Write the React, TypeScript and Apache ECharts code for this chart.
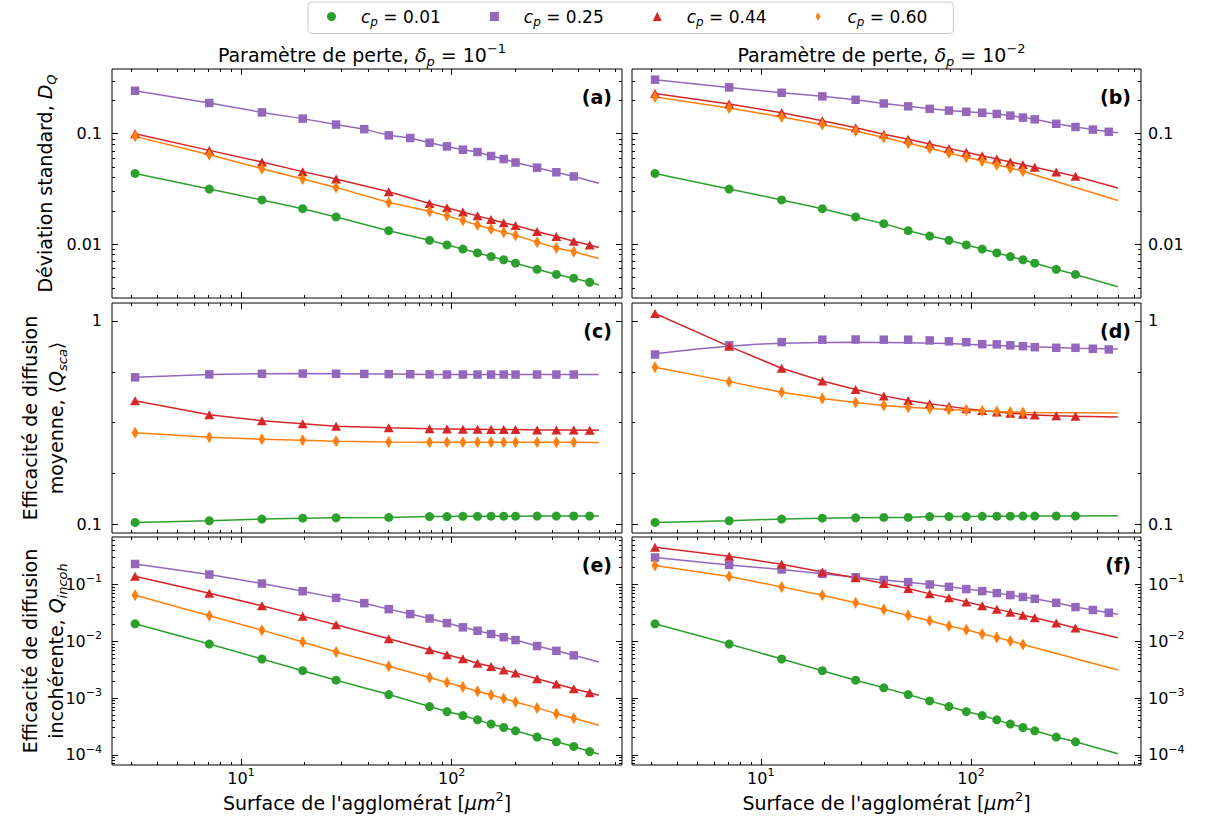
import React, { useEffect, useRef } from 'react';
import * as echarts from 'echarts';

// ---------- x positions (cluster surface, µm²) ----------
const X19 = [3.14, 7.07, 12.57, 19.63, 28.27, 38.48, 50.27, 63.62, 78.54, 95.03, 113.1, 132.7, 153.9, 176.7, 201.1, 254.5, 314.2, 380.1, 452.4];
const X18 = [3.14, 7.07, 12.57, 19.63, 28.27, 38.48, 50.27, 63.62, 78.54, 95.03, 113.1, 132.7, 153.9, 176.7, 201.1, 254.5, 314.2, 380.1];
const X17F = [3.14, 7.07, 12.57, 19.63, 28.27, 38.48, 50.27, 63.62, 78.54, 95.03, 113.1, 132.7, 153.9, 176.7, 201.1, 254.5, 314.2];
const X14F = [3.14, 7.07, 12.57, 19.63, 28.27, 38.48, 50.27, 63.62, 78.54, 95.03, 113.1, 132.7, 153.9, 176.7];
const X17 = [3.14, 7.07, 12.57, 19.63, 28.27, 50.27, 78.54, 95.03, 113.1, 132.7, 153.9, 176.7, 201.1, 254.5, 314.2, 380.1, 452.4];
const X16 = [3.14, 7.07, 12.57, 19.63, 28.27, 50.27, 78.54, 95.03, 113.1, 132.7, 153.9, 176.7, 201.1, 254.5, 314.2, 380.1];
const LINE_END_X = 500;

// ---------- legend ----------
const CP_VALUES = ['0.01', '0.25', '0.44', '0.60'];
const COLORS = ['#2ca02c', '#9467bd', '#d62728', '#ff7f0e'];

// ---------- (a) D_Q, delta_p = 1e-1 ----------
const A_G = [0.0436, 0.0315, 0.0251, 0.0209, 0.0176, 0.0132, 0.0108, 0.0098, 0.0090, 0.0083, 0.0077, 0.0072, 0.0067, 0.0059, 0.0053, 0.0049, 0.0045];
const A_P = [0.245, 0.190, 0.156, 0.137, 0.121, 0.110, 0.0966, 0.0914, 0.0828, 0.0767, 0.0716, 0.0682, 0.0628, 0.0589, 0.0548, 0.0492, 0.0447, 0.0410];
const A_R = [0.100, 0.0706, 0.0554, 0.0453, 0.0388, 0.0298, 0.0233, 0.0213, 0.0195, 0.0180, 0.0167, 0.0156, 0.0147, 0.0130, 0.0117, 0.0106, 0.0098];
const A_O = [0.0946, 0.0645, 0.0482, 0.0388, 0.0326, 0.0238, 0.0198, 0.0180, 0.0163, 0.0149, 0.0137, 0.0128, 0.0120, 0.0104, 0.0092, 0.0085];
const A_TAIL = [0.00425, 0.0355, 0.0093, 0.0074];

// ---------- (b) D_Q, delta_p = 1e-2 ----------
const B_G = [0.0436, 0.0315, 0.0251, 0.0209, 0.0176, 0.0153, 0.0132, 0.0118, 0.0108, 0.0098, 0.0090, 0.0083, 0.0077, 0.0072, 0.0067, 0.0059, 0.0053];
const B_P = [0.309, 0.263, 0.235, 0.218, 0.203, 0.188, 0.177, 0.168, 0.162, 0.158, 0.155, 0.151, 0.146, 0.140, 0.135, 0.123, 0.115, 0.109, 0.104];
const B_R = [0.231, 0.186, 0.155, 0.131, 0.113, 0.099, 0.089, 0.0805, 0.0736, 0.0680, 0.0632, 0.0590, 0.0555, 0.0523, 0.0496, 0.0449, 0.0411];
const B_O = [0.215, 0.171, 0.142, 0.121, 0.106, 0.0925, 0.0820, 0.0738, 0.0668, 0.0612, 0.0565, 0.0522, 0.0488, 0.0456];
const B_TAIL = [0.0041, 0.102, 0.0322, 0.0248];

// ---------- (c) <Q_sca>, delta_p = 1e-1 ----------
const C_G = [0.102, 0.104, 0.106, 0.107, 0.1075, 0.108, 0.109, 0.109, 0.1093, 0.1093, 0.1095, 0.1095, 0.1095, 0.1096, 0.1096, 0.1097, 0.1097];
const C_P = [0.528, 0.546, 0.550, 0.551, 0.550, 0.549, 0.548, 0.547, 0.546, 0.545, 0.545, 0.545, 0.545, 0.545, 0.545, 0.545, 0.545, 0.545];
const C_R = [0.405, 0.346, 0.323, 0.312, 0.303, 0.298, 0.295, 0.294, 0.293, 0.293, 0.292, 0.292, 0.292, 0.291, 0.291, 0.291, 0.290];
const C_O = [0.282, 0.268, 0.262, 0.259, 0.256, 0.254, 0.253, 0.253, 0.253, 0.253, 0.253, 0.253, 0.253, 0.253, 0.253, 0.253];
const C_TAIL = [0.1097, 0.545, 0.290, 0.252];

// ---------- (d) <Q_sca>, delta_p = 1e-2 ----------
const D_G = [0.102, 0.104, 0.106, 0.107, 0.1075, 0.108, 0.108, 0.109, 0.109, 0.109, 0.1093, 0.1095, 0.1095, 0.1096, 0.1096, 0.1097, 0.1097];
const D_P = [0.684, 0.759, 0.787, 0.809, 0.811, 0.809, 0.809, 0.802, 0.794, 0.787, 0.769, 0.767, 0.759, 0.752, 0.743, 0.738, 0.738, 0.730, 0.724];
const D_R = [1.088, 0.750, 0.585, 0.507, 0.460, 0.428, 0.406, 0.391, 0.380, 0.370, 0.363, 0.357, 0.352, 0.348, 0.345, 0.342, 0.340];
const D_O = [0.592, 0.503, 0.446, 0.416, 0.397, 0.384, 0.376, 0.371, 0.367, 0.364, 0.361, 0.359, 0.357, 0.355];
const D_TAIL = [0.110, 0.727, 0.337, 0.353];
const D_P_FIT_X = [3.14, 5.0, 7.07, 9.5, 12.57, 19.63, 28.27, 50.27, 78.54, 113.1, 201.1, 314.2, 500];
const D_P_FIT_Y = [0.690, 0.728, 0.752, 0.768, 0.778, 0.784, 0.785, 0.782, 0.775, 0.762, 0.747, 0.735, 0.727];

// ---------- (e) Q_incoh, delta_p = 1e-1 ----------
const E_G = [0.0203, 0.00893, 0.00487, 0.00303, 0.00206, 0.00115, 0.000706, 0.000577, 0.000491, 0.000412, 0.000347, 0.000302, 0.000264, 0.000205, 0.000169, 0.000140, 0.000114];
const E_P = [0.230, 0.150, 0.104, 0.0762, 0.0581, 0.0469, 0.0368, 0.0301, 0.0252, 0.0209, 0.0176, 0.0153, 0.0134, 0.0118, 0.0105, 0.00824, 0.00678, 0.00565];
const E_R = [0.140, 0.0703, 0.0421, 0.0277, 0.0195, 0.0111, 0.0071, 0.0058, 0.0049, 0.0041, 0.00358, 0.00313, 0.00277, 0.00218, 0.00177, 0.00146, 0.00124];
const E_O = [0.0649, 0.0281, 0.0157, 0.00968, 0.00646, 0.00362, 0.00229, 0.00187, 0.00156, 0.00132, 0.00113, 0.00098, 0.00085, 0.00067, 0.00053, 0.00044];
const E_TAIL = [0.000103, 0.0043, 0.00112, 0.00033];

// ---------- (f) Q_incoh, delta_p = 1e-2 ----------
const F_G = [0.0203, 0.00893, 0.00487, 0.00303, 0.00206, 0.00151, 0.00115, 0.00089, 0.000706, 0.000577, 0.000491, 0.000412, 0.000347, 0.000302, 0.000264, 0.000205, 0.000169];
const F_P = [0.299, 0.221, 0.184, 0.154, 0.134, 0.120, 0.110, 0.100, 0.0910, 0.0830, 0.0765, 0.0705, 0.0650, 0.0603, 0.0560, 0.0475, 0.0400, 0.0355, 0.0318];
const F_R = [0.453, 0.314, 0.227, 0.166, 0.131, 0.104, 0.0851, 0.0684, 0.0582, 0.0494, 0.0421, 0.0368, 0.0326, 0.0288, 0.0259, 0.0209, 0.0171];
const F_O = [0.216, 0.138, 0.0908, 0.0649, 0.0475, 0.0364, 0.0285, 0.0229, 0.0185, 0.0159, 0.0134, 0.0117, 0.0101, 0.0088];
const F_TAIL = [0.000104, 0.0300, 0.0115, 0.00312];

// ---------- ticks ----------
const X_RANGE = [2.44, 644];
const X_MAJOR = [10, 100];
const X_MINOR = [3, 4, 5, 6, 7, 8, 9, 20, 30, 40, 50, 60, 70, 80, 90, 200, 300, 400, 500, 600];
const Y1_RANGE = [0.00324, 0.386];
const Y1_MAJOR = [0.01, 0.1];
const Y1_MINOR = [0.004, 0.005, 0.006, 0.007, 0.008, 0.009, 0.02, 0.03, 0.04, 0.05, 0.06, 0.07, 0.08, 0.09, 0.2, 0.3];
const Y2_RANGE = [0.0905, 1.226];
const Y2_MAJOR = [0.1, 1];
const Y2_MINOR = [0.1778, 0.3162, 0.5623];
const Y3_RANGE = [6.6e-5, 0.687];
const Y3_MAJOR = [1e-4, 1e-3, 1e-2, 1e-1];
const Y3_MINOR = [7e-5, 8e-5, 9e-5, 2e-4, 3e-4, 4e-4, 5e-4, 6e-4, 7e-4, 8e-4, 9e-4, 2e-3, 3e-3, 4e-3, 5e-3, 6e-3, 7e-3, 8e-3, 9e-3, 0.02, 0.03, 0.04, 0.05, 0.06, 0.07, 0.08, 0.09, 0.2, 0.3, 0.4, 0.5, 0.6];

const FONT = "'DejaVu Sans', 'Noto Sans', sans-serif";

function richSet(base: number, lh: number) {
  const sub = Math.round(base * 0.7);
  return {
    n: { fontFamily: FONT, fontSize: base, lineHeight: lh, color: '#000' },
    i: { fontFamily: FONT, fontSize: base, fontStyle: 'italic', lineHeight: lh, color: '#000' },
    sb: { fontFamily: FONT, fontSize: sub, fontStyle: 'italic', lineHeight: sub + 2, verticalAlign: 'bottom', color: '#000' },
    sp: { fontFamily: FONT, fontSize: sub, lineHeight: sub + 2, verticalAlign: 'top', color: '#000' },
  };
}

const COLS = [{ left: 112, width: 510 }, { left: 632, width: 509 }];
const ROWS = [{ top: 69, height: 229 }, { top: 303, height: 230 }, { top: 537, height: 228 }];

const plainFmt = (v: number) => {
  const e = Math.round(Math.log10(v));
  return e >= 0 ? '1' : '0.' + '0'.repeat(-e - 1) + '1';
};
const powFmt = (v: number) => {
  const e = Math.round(Math.log10(v));
  return '{n|10}{sp|' + (e < 0 ? '\u2212' + -e : String(e)) + '}';
};

const ROW_Y = [
  { range: Y1_RANGE, major: Y1_MAJOR, minor: Y1_MINOR, fmt: plainFmt },
  { range: Y2_RANGE, major: Y2_MAJOR, minor: Y2_MINOR, fmt: plainFmt },
  { range: Y3_RANGE, major: Y3_MAJOR, minor: Y3_MINOR, fmt: powFmt },
];

type S = { x: number[]; y: number[]; tail: number; fitX?: number[]; fitY?: number[] };
const mk = (xs: number[][], ys: number[][], tails: number[]): S[] =>
  ys.map((y, k) => ({ x: xs[k], y, tail: tails[k] }));

const PANELS = [
  { label: '(a)', row: 0, col: 0, series: mk([X17, X18, X17, X16], [A_G, A_P, A_R, A_O], A_TAIL) },
  { label: '(b)', row: 0, col: 1, series: mk([X17F, X19, X17F, X14F], [B_G, B_P, B_R, B_O], B_TAIL) },
  { label: '(c)', row: 1, col: 0, series: mk([X17, X18, X17, X16], [C_G, C_P, C_R, C_O], C_TAIL) },
  { label: '(d)', row: 1, col: 1, series: mk([X17F, X19, X17F, X14F], [D_G, D_P, D_R, D_O], D_TAIL) },
  { label: '(e)', row: 2, col: 0, series: mk([X17, X18, X17, X16], [E_G, E_P, E_R, E_O], E_TAIL) },
  { label: '(f)', row: 2, col: 1, series: mk([X17F, X19, X17F, X14F], [F_G, F_P, F_R, F_O], F_TAIL) },
];
PANELS[3].series[1].fitX = D_P_FIT_X;
PANELS[3].series[1].fitY = D_P_FIT_Y;

const SYMBOLS = ['circle', 'rect', 'triangle', 'diamond'];
const SYMBOL_SIZES: any[] = [9, 8.5, [10, 9], [7, 12]];
const LEGEND_ICONS = ['circle', 'rect', 'triangle', 'path://M0,6L3.2,0L6.4,6L3.2,12Z'];

function buildOption() {
  const grids: any[] = [];
  const xAxes: any[] = [];
  const yAxes: any[] = [];
  const series: any[] = [];
  const graphics: any[] = [];
  const tickRich = richSet(16, 22);

  PANELS.forEach((p, g) => {
    const col = COLS[p.col];
    const row = ROWS[p.row];
    const ry = ROW_Y[p.row];
    grids.push({ left: col.left, top: row.top, width: col.width, height: row.height, show: true, borderColor: '#000', borderWidth: 1, backgroundColor: 'transparent' });

    (['bottom', 'top'] as const).forEach((pos) => {
      [true, false].forEach((major) => {
        const showLabel = major && pos === 'bottom' && p.row === 2;
        const ax: any = {
          type: 'log', logBase: 10, gridIndex: g, position: pos, min: X_RANGE[0], max: X_RANGE[1],
          axisLine: { show: false, onZero: false },
          axisTick: { show: true, inside: true, length: major ? 6 : 3, customValues: major ? X_MAJOR : X_MINOR, lineStyle: { color: '#000', width: 1 } },
          axisLabel: showLabel
            ? { show: true, customValues: X_MAJOR, formatter: powFmt, margin: 2, rich: tickRich }
            : { show: false },
          splitLine: { show: false },
        };
        if (showLabel) {
          ax.name = "{n|Surface de l'agglomérat [}{i|\u03bcm}{sp|2}{n|]}";
          ax.nameLocation = 'middle';
          ax.nameGap = 25;
          ax.nameTextStyle = { rich: richSet(19, 26) };
        }
        xAxes.push(ax);
      });
    });

    (['left', 'right'] as const).forEach((pos) => {
      [true, false].forEach((major) => {
        const showLabel = major && ((pos === 'left' && p.col === 0) || (pos === 'right' && p.col === 1));
        yAxes.push({
          type: 'log', logBase: 10, gridIndex: g, position: pos, min: ry.range[0], max: ry.range[1],
          axisLine: { show: false, onZero: false },
          axisTick: { show: true, inside: true, length: major ? 6 : 3, customValues: major ? ry.major : ry.minor, lineStyle: { color: '#000', width: 1 } },
          axisLabel: showLabel
            ? { show: true, customValues: ry.major, formatter: p.row === 2 ? ry.fmt : (v: number) => '{n|' + ry.fmt(v) + '}', margin: pos === 'left' ? 10 : 7, rich: tickRich }
            : { show: false },
          splitLine: { show: false },
        });
      });
    });

    p.series.forEach((s, k) => {
      const fitX = s.fitX ?? [...s.x, LINE_END_X];
      const fitY = s.fitY ?? [...s.y, s.tail];
      series.push({
        type: 'line', name: '_fit' + g + k, xAxisIndex: 4 * g, yAxisIndex: 4 * g,
        data: fitX.map((x, i) => [x, fitY[i]]),
        showSymbol: false, symbol: 'none', smooth: false,
        lineStyle: { color: COLORS[k], width: 1.5 }, itemStyle: { color: COLORS[k] },
        silent: true, z: 2,
      });
      series.push({
        type: 'scatter', name: 'cp=' + CP_VALUES[k], xAxisIndex: 4 * g, yAxisIndex: 4 * g,
        data: s.x.map((x, i) => [x, s.y[i]]),
        symbol: SYMBOLS[k], symbolSize: SYMBOL_SIZES[k],
        itemStyle: { color: COLORS[k], opacity: 1 }, z: 3,
      });
    });

    graphics.push({
      type: 'text', x: col.left + col.width - 10, y: row.top + 28,
      style: { text: p.label, fontFamily: FONT, fontSize: 19, fontWeight: 'bold', fill: '#000', align: 'right', verticalAlign: 'middle' },
    });
  });

  const titleRich = richSet(19, 26);
  ['1', '2'].forEach((e, c) => {
    graphics.push({
      type: 'text', x: COLS[c].left + COLS[c].width / 2 - 5, y: 55,
      style: { text: '{n|Paramètre de perte, }{i|\u03b4}{sb|p}{n| = 10}{sp|\u2212' + e + '}', rich: titleRich, align: 'center', verticalAlign: 'middle' },
    });
  });

  const yNames = [
    '{n|Déviation standard, }{i|D}{sb|Q}',
    '{n|Efficacité de diffusion}\n{n|moyenne, \u27e8}{i|Q}{sb|sca}{n|\u27e9}',
    '{n|Efficacité de diffusion}\n{n|incohérente, }{i|Q}{sb|incoh}',
  ];
  yNames.forEach((t, r) => {
    graphics.push({
      type: 'text', x: r === 0 ? 45 : 43, y: ROWS[r].top + ROWS[r].height / 2, rotation: Math.PI / 2,
      style: { text: t, rich: richSet(19, 26), align: 'center', verticalAlign: 'middle' },
    });
  });

  const legendRich: any = richSet(17, 22);
  legendRich.i = { ...legendRich.i, padding: [0, 0, 0, 20] };

  return {
    animation: false,
    backgroundColor: '#fff',
    grid: grids,
    xAxis: xAxes,
    yAxis: yAxes,
    series,
    graphic: graphics,
    legend: {
      data: CP_VALUES.map((v, i) => ({ name: 'cp=' + v, icon: LEGEND_ICONS[i] })),
      left: 308, top: 2, orient: 'horizontal',
      itemWidth: 9, itemHeight: 9, itemGap: 49, symbolKeepAspect: true,
      padding: [6, 26, 6, 19],
      borderColor: '#cccccc', borderWidth: 1, borderRadius: 4, backgroundColor: '#fff',
      selectedMode: false,
      formatter: (name: string) => '{i|c}{sb|p}{n| = ' + name.replace('cp=', '') + '}',
      textStyle: { rich: legendRich },
    },
  };
}

export default function App() {
  const ref = useRef<HTMLDivElement>(null);
  useEffect(() => {
    if (!ref.current) return;
    const chart = echarts.init(ref.current, null, { renderer: 'svg' });
    chart.setOption(buildOption() as any);
    return () => chart.dispose();
  }, []);
  return <div ref={ref} style={{ position: 'absolute', left: 0, top: 0, width: 1213, height: 817 }} />;
}
